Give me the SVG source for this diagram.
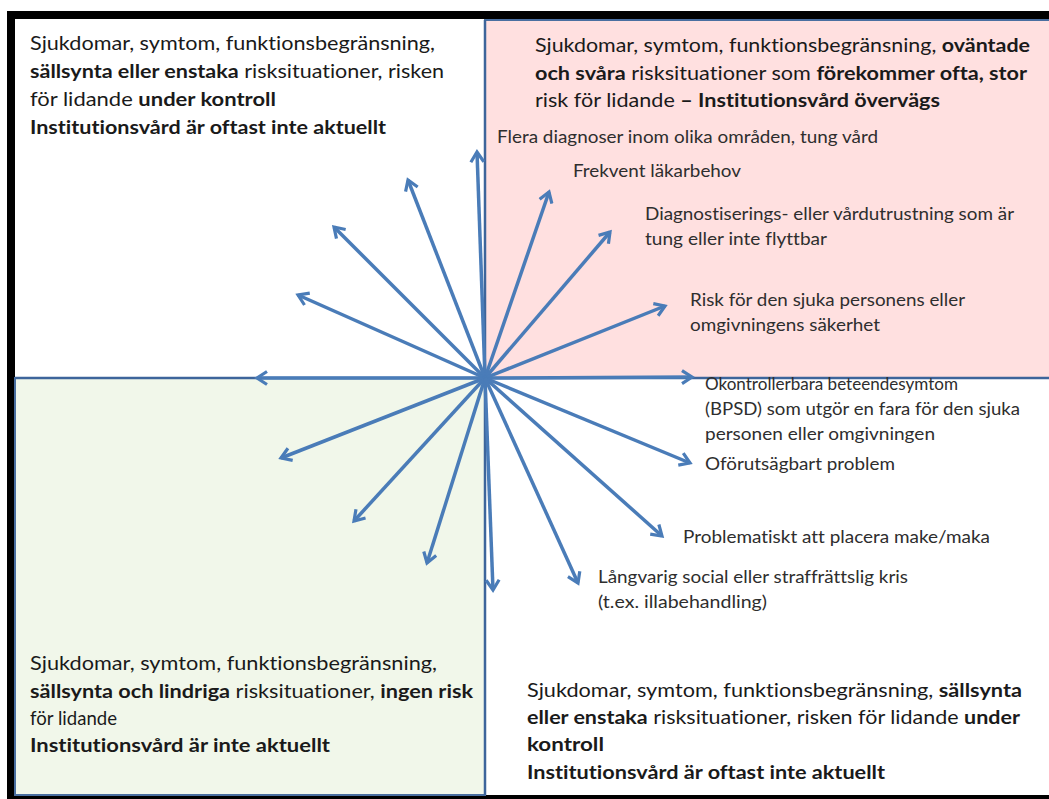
<svg xmlns="http://www.w3.org/2000/svg" width="1049" height="799" viewBox="0 0 1049 799">
<style>
.t{font-family:Lato,"Liberation Sans",sans-serif;font-size:19px;fill:#1a1a1a;font-variant-ligatures:none}
.l{font-family:Lato,"Liberation Sans",sans-serif;font-size:16.5px;fill:#2e2e2e;font-variant-ligatures:none}
.b{font-weight:bold}
.ar{stroke:#4a7cb8;stroke-width:3.5;fill:none;marker-end:url(#ah)}
.ax{stroke:#3d659b;stroke-width:2.5;fill:none}
</style>
<defs>
<marker id="ah" markerUnits="userSpaceOnUse" viewBox="0 0 16 16" markerWidth="16" markerHeight="16" refX="13" refY="8" orient="auto">
<path d="M3,1.5 L13,8 L3,14.5" fill="none" stroke="#4a7cb8" stroke-width="3.2" stroke-linejoin="miter"/>
</marker>
</defs>
<rect x="0" y="0" width="1049" height="799" fill="#fff"/>
<g id="frame">
<rect x="7" y="11" width="1042" height="788" fill="#000"/>
<rect x="15" y="19" width="1034" height="776" fill="#fff"/>
</g>
<g id="q-top-right">
<rect x="485" y="20" width="566" height="358" fill="#ffe0e0" stroke="#4a6fa0" stroke-width="2"/>
<text class="t" x="535" y="52" textLength="495" lengthAdjust="spacingAndGlyphs">Sjukdomar, symtom, funktionsbegränsning, <tspan class="b">oväntade</tspan></text>
<text class="t" x="535" y="80" textLength="492" lengthAdjust="spacingAndGlyphs"><tspan class="b">och svåra</tspan> risksituationer som <tspan class="b">förekommer ofta, stor</tspan></text>
<text class="t" x="535" y="107" textLength="405" lengthAdjust="spacingAndGlyphs">risk för lidande <tspan class="b">– Institutionsvård övervägs</tspan></text>
</g>
<g id="q-bottom-left">
<rect x="15" y="378" width="470" height="417" fill="#f1f7ea" stroke="#4a6fa0" stroke-width="2"/>
<text class="t" x="30" y="670" textLength="407" lengthAdjust="spacingAndGlyphs">Sjukdomar, symtom, funktionsbegränsning,</text>
<text class="t" x="30" y="698" textLength="443" lengthAdjust="spacingAndGlyphs"><tspan class="b">sällsynta och lindriga</tspan> risksituationer, <tspan class="b">ingen risk</tspan></text>
<text class="t" x="30" y="725" textLength="87" lengthAdjust="spacingAndGlyphs">för lidande</text>
<text class="t b" x="30" y="752" textLength="300" lengthAdjust="spacingAndGlyphs">Institutionsvård är inte aktuellt</text>
</g>
<g id="q-top-left">
<text class="t" x="30" y="50" textLength="405" lengthAdjust="spacingAndGlyphs">Sjukdomar, symtom, funktionsbegränsning,</text>
<text class="t" x="30" y="78" textLength="414" lengthAdjust="spacingAndGlyphs"><tspan class="b">sällsynta eller enstaka</tspan> risksituationer, risken</text>
<text class="t" x="30" y="106" textLength="246" lengthAdjust="spacingAndGlyphs">för lidande <tspan class="b">under kontroll</tspan></text>
<text class="t b" x="30" y="134" textLength="356" lengthAdjust="spacingAndGlyphs">Institutionsvård är oftast inte aktuellt</text>
</g>
<g id="q-bottom-right">
<text class="t" x="527" y="697" textLength="495" lengthAdjust="spacingAndGlyphs">Sjukdomar, symtom, funktionsbegränsning, <tspan class="b">sällsynta</tspan></text>
<text class="t" x="527" y="724" textLength="493" lengthAdjust="spacingAndGlyphs"><tspan class="b">eller enstaka</tspan> risksituationer, risken för lidande <tspan class="b">under</tspan></text>
<text class="t b" x="527" y="751" textLength="77" lengthAdjust="spacingAndGlyphs">kontroll</text>
<text class="t b" x="527" y="779" textLength="358" lengthAdjust="spacingAndGlyphs">Institutionsvård är oftast inte aktuellt</text>
</g>
<g id="axes">
<line class="ax" x1="15" y1="378" x2="1049" y2="378"/>
<line class="ax" x1="485" y1="20" x2="485" y2="795"/>
</g>
<g id="connectors">
<line class="ar" x1="485" y1="378" x2="477" y2="152"/>
<line class="ar" x1="485" y1="378" x2="408" y2="180"/>
<line class="ar" x1="485" y1="378" x2="334" y2="227"/>
<line class="ar" x1="485" y1="378" x2="298" y2="295"/>
<line class="ar" x1="485" y1="378" x2="257" y2="378"/>
<line class="ar" x1="485" y1="378" x2="281" y2="458"/>
<line class="ar" x1="485" y1="378" x2="354" y2="521"/>
<line class="ar" x1="485" y1="378" x2="427" y2="563"/>
<line class="ar" x1="485" y1="378" x2="493" y2="590"/>
<line class="ar" x1="485" y1="378" x2="549" y2="192"/>
<line class="ar" x1="485" y1="378" x2="610" y2="232"/>
<line class="ar" x1="485" y1="378" x2="665" y2="306"/>
<line class="ar" x1="485" y1="378" x2="692" y2="377"/>
<line class="ar" x1="485" y1="378" x2="690" y2="463"/>
<line class="ar" x1="485" y1="378" x2="662" y2="536"/>
<line class="ar" x1="485" y1="378" x2="578" y2="583"/>
</g>
<g id="labels">
<text class="l" x="497" y="143" textLength="381" lengthAdjust="spacingAndGlyphs">Flera diagnoser inom olika områden, tung vård</text>
<text class="l" x="573" y="177" textLength="168" lengthAdjust="spacingAndGlyphs">Frekvent läkarbehov</text>
<text class="l" x="645" y="220" textLength="369" lengthAdjust="spacingAndGlyphs">Diagnostiserings- eller vårdutrustning som är</text>
<text class="l" x="645" y="245" textLength="182" lengthAdjust="spacingAndGlyphs">tung eller inte flyttbar</text>
<text class="l" x="690" y="306" textLength="275" lengthAdjust="spacingAndGlyphs">Risk för den sjuka personens eller</text>
<text class="l" x="690" y="331" textLength="190" lengthAdjust="spacingAndGlyphs">omgivningens säkerhet</text>
<text class="l" x="705" y="390" textLength="253" lengthAdjust="spacingAndGlyphs">Okontrollerbara beteendesymtom</text>
<text class="l" x="705" y="415" textLength="315" lengthAdjust="spacingAndGlyphs">(BPSD) som utgör en fara för den sjuka</text>
<text class="l" x="705" y="440" textLength="230" lengthAdjust="spacingAndGlyphs">personen eller omgivningen</text>
<text class="l" x="705" y="470" textLength="190" lengthAdjust="spacingAndGlyphs">Oförutsägbart problem</text>
<text class="l" x="683" y="543" textLength="307" lengthAdjust="spacingAndGlyphs">Problematiskt att placera make/maka</text>
<text class="l" x="598" y="583" textLength="310" lengthAdjust="spacingAndGlyphs">Långvarig social eller straffrättslig kris</text>
<text class="l" x="598" y="608" textLength="169" lengthAdjust="spacingAndGlyphs">(t.ex. illabehandling)</text>
</g>
</svg>
